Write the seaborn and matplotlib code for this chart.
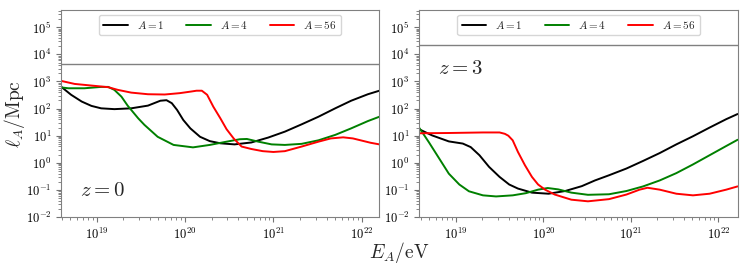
import matplotlib
matplotlib.use("Agg")  # headless rendering
import matplotlib.pyplot as plt
import matplotlib.ticker as mticker
import numpy as np
import pandas as pd
import seaborn as sns

# values: log10(E_A / eV) and log10(l_A / Mpc)
LABELS = ["$A = 1$", "$A = 4$", "$A = 56$"]

# z = 0
E1_z0 = [18.60, 18.71, 18.83, 18.94, 19.05, 19.20, 19.39, 19.58, 19.72, 19.79, 19.85, 19.91,
         19.98, 20.06, 20.17, 20.28, 20.40, 20.56, 20.75, 20.94, 21.13, 21.32, 21.51, 21.70,
         21.88, 22.07, 22.20]
L1_z0 = [2.80, 2.51, 2.26, 2.10, 2.01, 1.98, 2.01, 2.11, 2.29, 2.31, 2.20, 1.95,
         1.58, 1.27, 0.96, 0.80, 0.72, 0.68, 0.75, 0.93, 1.15, 1.42, 1.70, 2.01,
         2.29, 2.53, 2.66]
E4_z0 = [18.60, 18.68, 18.86, 19.05, 19.13, 19.20, 19.28, 19.35, 19.47, 19.54, 19.69, 19.87,
         20.09, 20.28, 20.47, 20.62, 20.70, 20.83, 20.98, 21.13, 21.32, 21.51, 21.70, 21.88,
         22.07, 22.20]
L4_z0 = [2.78, 2.75, 2.75, 2.80, 2.80, 2.69, 2.44, 2.11, 1.64, 1.40, 0.96, 0.66,
         0.57, 0.66, 0.78, 0.87, 0.88, 0.78, 0.68, 0.66, 0.70, 0.83, 1.03, 1.27,
         1.54, 1.70]
E56_z0 = [18.60, 18.75, 18.94, 19.13, 19.24, 19.39, 19.58, 19.77, 19.94, 20.07, 20.13, 20.19,
          20.25, 20.32, 20.40, 20.47, 20.55, 20.64, 20.75, 20.88, 21.00, 21.13, 21.32, 21.51,
          21.65, 21.79, 21.90, 22.00, 22.10, 22.20]
L56_z0 = [3.02, 2.91, 2.85, 2.79, 2.69, 2.59, 2.53, 2.52, 2.57, 2.63, 2.66, 2.66,
          2.51, 2.07, 1.64, 1.24, 0.90, 0.60, 0.51, 0.43, 0.40, 0.43, 0.60, 0.78,
          0.90, 0.94, 0.90, 0.82, 0.74, 0.68]

# z = 3
E1_z3 = [18.58, 18.73, 18.92, 19.08, 19.17, 19.27, 19.38, 19.50, 19.61, 19.71, 19.87, 20.06,
         20.25, 20.44, 20.59, 20.75, 20.95, 21.14, 21.33, 21.52, 21.71, 21.90, 22.09, 22.22]
L1_z3 = [1.24, 1.01, 0.79, 0.71, 0.58, 0.28, -0.15, -0.52, -0.80, -0.95, -1.10, -1.14,
         -1.04, -0.86, -0.65, -0.46, -0.21, 0.07, 0.36, 0.68, 0.98, 1.30, 1.61, 1.80]
E4_z3 = [18.58, 18.69, 18.81, 18.92, 19.04, 19.15, 19.31, 19.46, 19.65, 19.80, 19.94, 20.05,
         20.17, 20.32, 20.51, 20.75, 20.95, 21.14, 21.33, 21.52, 21.71, 21.90, 22.09, 22.22]
L4_z3 = [1.30, 0.77, 0.16, -0.40, -0.80, -1.05, -1.20, -1.24, -1.20, -1.12, -0.99, -0.93,
         -0.98, -1.10, -1.18, -1.16, -1.04, -0.87, -0.65, -0.38, -0.06, 0.28, 0.62, 0.85]
E56_z3 = [18.58, 18.92, 19.31, 19.50, 19.56, 19.60, 19.65, 19.71, 19.79, 19.87, 19.94, 20.02,
          20.13, 20.32, 20.51, 20.75, 20.95, 21.10, 21.19, 21.33, 21.52, 21.71, 21.90, 22.09,
          22.22]
L56_z3 = [1.09, 1.10, 1.12, 1.12, 1.07, 1.00, 0.83, 0.40, -0.09, -0.52, -0.80, -0.99,
          -1.17, -1.36, -1.42, -1.34, -1.17, -0.99, -0.92, -0.99, -1.14, -1.20, -1.14, -0.99,
          -0.87]

# horizontal reference levels, log10(Mpc)
HLINE_Z0 = 3.66
HLINE_Z3 = 4.33

sns.set_style("ticks")
plt.rcParams["font.family"] = ["DejaVu Serif"]
plt.rcParams["mathtext.fontset"] = "cm"

PALETTE = dict(zip(LABELS, ["black", "green", "red"]))


def panel_df(curves):
    frames = []
    for label, (e, l) in zip(LABELS, curves):
        frames.append(pd.DataFrame({"E": 10.0 ** np.asarray(e), "ell": 10.0 ** np.asarray(l),
                                    "A": label}))
    return pd.concat(frames, ignore_index=True)


df_z0 = panel_df([(E1_z0, L1_z0), (E4_z0, L4_z0), (E56_z0, L56_z0)])
df_z3 = panel_df([(E1_z3, L1_z3), (E4_z3, L4_z3), (E56_z3, L56_z3)])

fig = plt.figure(figsize=(7.47, 2.73), dpi=100)
ax0 = fig.add_axes([0.0817, 0.205, 0.4257, 0.758])
ax1 = fig.add_axes([0.561, 0.205, 0.427, 0.758])

panels = [
    (ax0, df_z0, HLINE_Z0, (18.596, 22.196), "$z = 0$", (0.06, 0.13)),
    (ax1, df_z3, HLINE_Z3, (18.58, 22.225), "$z = 3$", (0.06, 0.72)),
]

fmt = mticker.FuncFormatter(lambda v, p: r"$10^{%d}$" % round(np.log10(v)))

for ax, df, hline, xlim, ztxt, zpos in panels:
    ax.set_xscale("log")
    ax.set_yscale("log")
    sns.lineplot(data=df, x="E", y="ell", hue="A", palette=PALETTE, estimator=None,
                 sort=False, lw=1.4, legend=False, ax=ax)
    curves = list(ax.lines)
    ax.axhline(10.0 ** hline, color="grey", lw=1.0)
    ax.set_xlim(10.0 ** xlim[0], 10.0 ** xlim[1])
    ax.set_ylim(1e-2, 4.3e5)
    ax.yaxis.set_major_locator(mticker.LogLocator(base=10, numticks=20))
    ax.yaxis.set_minor_locator(mticker.LogLocator(base=10, subs=np.arange(2, 10), numticks=20))
    ax.yaxis.set_minor_formatter(mticker.NullFormatter())
    ax.xaxis.set_major_formatter(fmt)
    ax.yaxis.set_major_formatter(fmt)
    ax.set_xlabel("")
    ax.set_ylabel("")
    ax.tick_params(labelsize=9, colors="0.45", labelcolor="black", length=3.5)
    ax.tick_params(which="minor", length=2, colors="0.45")
    for sp in ax.spines.values():
        sp.set_visible(True)
        sp.set_color("0.5")
    ax.text(zpos[0], zpos[1], ztxt, transform=ax.transAxes, fontsize=15, va="center",
            ha="left", color="0.15")
    leg = ax.legend(handles=curves, labels=LABELS, loc="upper center", ncol=3, fontsize=8,
                    handlelength=2.2, handletextpad=0.8, columnspacing=2.0,
                    borderaxespad=0.4, frameon=True, fancybox=True)
    leg.get_frame().set_edgecolor("0.8")

ax0.set_ylabel(r"$\ell_A/\mathrm{Mpc}$", fontsize=14)
ax0.yaxis.set_label_coords(-0.108, 0.5)
fig.text(0.534, 0.075, r"$E_A/\mathrm{eV}$", fontsize=14, ha="center", va="center")

fig.savefig("out.png", dpi=100)
plt.close(fig)
